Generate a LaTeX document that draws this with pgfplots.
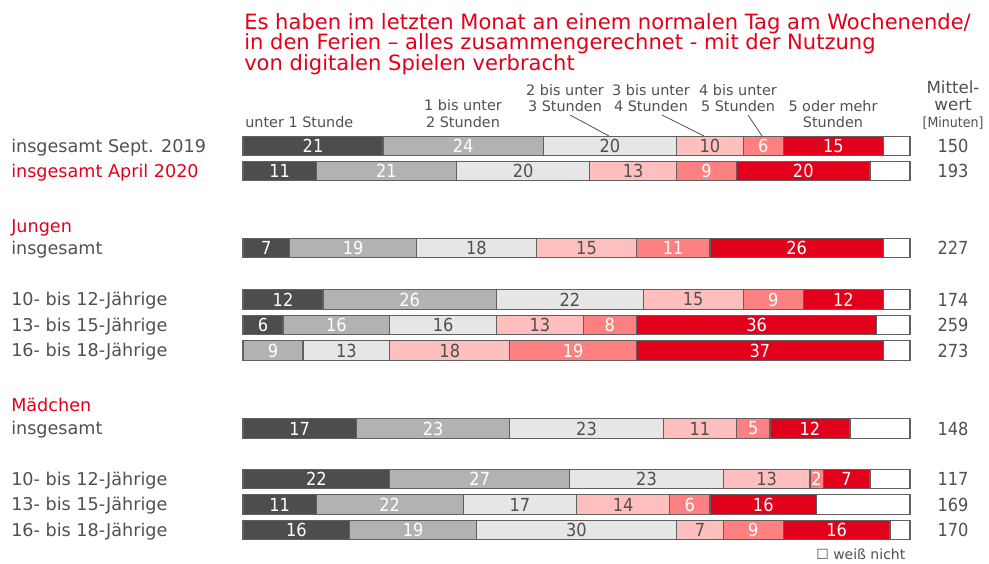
\documentclass[border=0pt]{standalone}
\usepackage{pgfplots}
\pgfplotsset{compat=1.18}
\usepackage{pgfplotstable}
\usepackage{fontspec}
\setmainfont{DejaVu Sans}
\newfontfamily\cond{DejaVu Sans Condensed}
\definecolor{cA}{HTML}{4D4D4D}
\definecolor{cB}{HTML}{B2B2B2}
\definecolor{cC}{HTML}{E6E6E6}
\definecolor{cD}{HTML}{FFBFBF}
\definecolor{cE}{HTML}{FF8080}
\definecolor{cF}{HTML}{E2001A}
\definecolor{txt}{HTML}{505050}
\definecolor{myred}{HTML}{E2001A}
\definecolor{barline}{HTML}{606060}

% y = row centre (pixel), v = percent
\pgfplotstableread{
y v
146 21
171 11
248 7
299.5 12
325 6
350.5 0
428.5 17
479 22
504.5 11
530 16
}\tA
\pgfplotstableread{
y v
146 24
171 21
248 19
299.5 26
325 16
350.5 9
428.5 23
479 27
504.5 22
530 19
}\tB
\pgfplotstableread{
y v
146 20
171 20
248 18
299.5 22
325 16
350.5 13
428.5 23
479 23
504.5 17
530 30
}\tC
\pgfplotstableread{
y v
146 10
171 13
248 15
299.5 15
325 13
350.5 18
428.5 11
479 13
504.5 14
530 7
}\tD
\pgfplotstableread{
y v
146 6
171 9
248 11
299.5 9
325 8
350.5 19
428.5 5
479 2
504.5 6
530 9
}\tE
\pgfplotstableread{
y v
146 15
171 20
248 26
299.5 12
325 36
350.5 37
428.5 12
479 7
504.5 16
530 16
}\tF
\pgfplotstableread{
y v
146 4
171 6
248 4
299.5 4
325 5
350.5 4
428.5 9
479 6
504.5 14
530 3
}\tG

\begin{document}
\begin{tikzpicture}
\begin{axis}[
  at={(182.25pt,0pt)}, anchor=north west,
  scale only axis, width=500.25pt, height=423pt,
  xmin=0, xmax=100, ymin=0, ymax=564, y dir=reverse,
  hide axis, clip=false,
  xbar stacked, bar width=14.5pt,
  point meta=explicit symbolic,
  lbl/.style={nodes near coords={\ifnum\pgfplotspointmeta=0 \else\pgfplotspointmeta\fi},
    every node near coord/.append style={anchor=center, inner sep=0pt, text=#1,
      font=\cond\fontsize{13.5}{13.5}\selectfont}},
  every axis plot/.append style={draw=barline, line width=0.9pt},
]
\addplot[fill=cA, lbl=white] table[x=v,y=y,meta=v] {\tA};
\addplot[fill=cB, lbl=white] table[x=v,y=y,meta=v] {\tB};
\addplot[fill=cC, lbl=txt] table[x=v,y=y,meta=v] {\tC};
\addplot[fill=cD, lbl=txt] table[x=v,y=y,meta=v] {\tD};
\addplot[fill=cE, lbl=white] table[x=v,y=y,meta=v] {\tE};
\addplot[fill=cF, lbl=white] table[x=v,y=y,meta=v] {\tF};
\addplot[fill=white] table[x=v,y=y] {\tG};
\end{axis}
\begin{scope}[x=0.75pt,y=-0.75pt]
% title
\begin{scope}[every node/.style={anchor=base west, inner sep=0pt, text=myred, font=\fontsize{15.8}{15.8}\selectfont}]
\node at (244,29) {Es haben im letzten Monat an einem normalen Tag am Wochenende/};
\node at (244,49.5) {in den Ferien – alles zusammengerechnet - mit der Nutzung};
\node at (244,70) {von digitalen Spielen verbracht};
\end{scope}
% column headers
\begin{scope}[every node/.style={anchor=base, inner sep=0pt, text=txt, font=\fontsize{10.8}{10.8}\selectfont}]
\node[anchor=base west] at (245,127) {unter 1 Stunde};
\node at (463,110) {1 bis unter};
\node at (463,127) {2 Stunden};
\node at (565,95) {2 bis unter};
\node at (565,111) {3 Stunden};
\node at (651,95) {3 bis unter};
\node at (651,111) {4 Stunden};
\node at (738,95) {4 bis unter};
\node at (738,111) {5 Stunden};
\node at (833,111) {5 oder mehr};
\node at (833,127) {Stunden};
\node[font=\fontsize{12.5}{12.5}\selectfont] at (953,93) {Mittel-};
\node[font=\fontsize{12.5}{12.5}\selectfont] at (953,110) {wert};
\node[font=\cond\fontsize{10.5}{10.5}\selectfont] at (953,127) {[Minuten]};
\end{scope}
\draw[txt, line width=0.6pt] (570,115) -- (609,136);
\draw[txt, line width=0.6pt] (662,115) -- (704,136);
\draw[txt, line width=0.6pt] (748,115) -- (762,136);
% row labels
\begin{scope}[every node/.style={anchor=base west, inner sep=0pt, text=txt, font=\fontsize{13.2}{13.2}\selectfont}]
\node at (11,152) {insgesamt Sept. 2019};
\node[text=myred] at (11,177) {insgesamt April 2020};
\node[text=myred] at (11,232) {Jungen};
\node at (11,254) {insgesamt};
\node at (11,305) {10- bis 12-Jährige};
\node at (11,331) {13- bis 15-Jährige};
\node at (11,356) {16- bis 18-Jährige};
\node[text=myred] at (11,411) {Mädchen};
\node at (11,434) {insgesamt};
\node at (11,485) {10- bis 12-Jährige};
\node at (11,510) {13- bis 15-Jährige};
\node at (11,536) {16- bis 18-Jährige};
\end{scope}
% mean values
\begin{scope}[every node/.style={anchor=center, inner sep=0pt, text=txt, font=\cond\fontsize{13.5}{13.5}\selectfont}]
\node at (953,146) {150};
\node at (953,171) {193};
\node at (953,248) {227};
\node at (953,299.5) {174};
\node at (953,325) {259};
\node at (953,350.5) {273};
\node at (953,428.5) {148};
\node at (953,479) {117};
\node at (953,504.5) {169};
\node at (953,530) {170};
\end{scope}
\node[anchor=base west, inner sep=0pt, text=txt, font=\fontsize{10.5}{10.5}\selectfont] at (816,559) {☐ weiß nicht};
\pgfresetboundingbox
\path[use as bounding box] (0,0) rectangle (989,564);
\end{scope}
\end{tikzpicture}
\end{document}
